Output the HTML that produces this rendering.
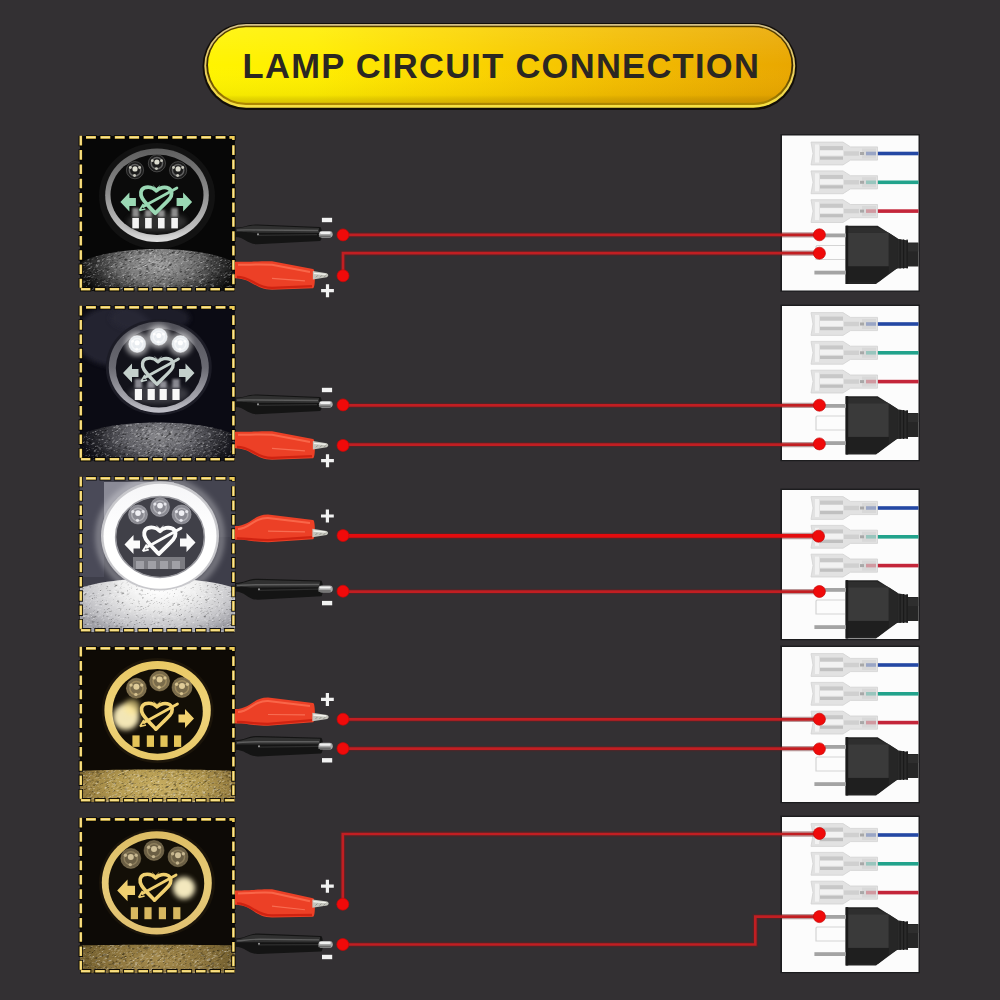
<!DOCTYPE html>
<html><head><meta charset="utf-8"><style>
html,body{margin:0;padding:0;background:#333033;width:1000px;height:1000px;overflow:hidden;font-family:"Liberation Sans",sans-serif;}
svg{display:block}
</style></head><body>
<svg width="1000" height="1000" viewBox="0 0 1000 1000">
<rect width="1000" height="1000" fill="#333033"/>
<defs>
<linearGradient id="bg1" x1="0" y1="0" x2="1" y2="0">
 <stop offset="0" stop-color="#fff400"/>
 <stop offset="0.18" stop-color="#ffee00"/>
 <stop offset="0.4" stop-color="#fcd800"/>
 <stop offset="0.7" stop-color="#f3bd00"/>
 <stop offset="1" stop-color="#e9a700"/>
</linearGradient>
<linearGradient id="bg2" x1="0" y1="0" x2="0" y2="1">
 <stop offset="0" stop-color="#ffffff" stop-opacity="0.10"/>
 <stop offset="0.5" stop-color="#ffffff" stop-opacity="0"/>
 <stop offset="0.9" stop-color="#000000" stop-opacity="0.04"/>
 <stop offset="1" stop-color="#7a4a00" stop-opacity="0.25"/>
</linearGradient>
</defs>
<linearGradient id="bgold" x1="0" y1="0" x2="0" y2="1"><stop offset="0" stop-color="#d4c088"/><stop offset="0.5" stop-color="#e8cc60"/><stop offset="1" stop-color="#f6e040"/></linearGradient>
<linearGradient id="bdk" x1="0" y1="0" x2="0" y2="1"><stop offset="0" stop-color="#5a4200"/><stop offset="0.5" stop-color="#3a2a04"/><stop offset="1" stop-color="#b08a00"/></linearGradient>
<rect x="202.5" y="23" width="594.5" height="87" rx="43.5" fill="#120e08"/>
<rect x="204.3" y="24.1" width="590.9" height="83.6" rx="41.8" fill="url(#bgold)"/>
<rect x="206.2" y="25.8" width="587.1" height="79.2" rx="39.6" fill="url(#bdk)"/>
<rect x="208" y="27.2" width="583.5" height="75.6" rx="37.8" fill="url(#bg1)"/>
<rect x="208" y="27.2" width="583.5" height="75.6" rx="37.8" fill="url(#bg2)"/>
<text x="242.6" y="78.3" font-family="Liberation Sans" font-weight="bold" font-size="34.5" letter-spacing="1.28" fill="#2b2722">LAMP CIRCUIT CONNECTION</text>
<defs><clipPath id="lc0"><rect x="0" y="0" width="155" height="155"/></clipPath>
<radialGradient id="gr0" cx="78" cy="128" r="80" gradientUnits="userSpaceOnUse" gradientTransform="translate(78 128) scale(1 0.5) translate(-78 -128)">
<stop offset="0" stop-color="#a0a0a0"/>
<stop offset="0.45" stop-color="#747474"/>
<stop offset="0.8" stop-color="#303030"/>
<stop offset="1" stop-color="#0e0e0e"/>
</radialGradient>
<linearGradient id="rg0" x1="0" y1="0" x2="0" y2="1">
<stop offset="0" stop-color="#5e5e5e"/>
<stop offset="0.45" stop-color="#8a8a8a"/>
<stop offset="0.85" stop-color="#c0c0c0"/>
<stop offset="1" stop-color="#dedede"/>
</linearGradient>
<filter id="bl0" x="-50%" y="-50%" width="200%" height="200%"><feGaussianBlur stdDeviation="2.5"/></filter>
<filter id="sb0" x="-20%" y="-20%" width="140%" height="140%"><feGaussianBlur stdDeviation="1.1"/></filter>
<filter id="nz0" x="0" y="0" width="100%" height="100%"><feTurbulence type="fractalNoise" baseFrequency="0.32 1.3" numOctaves="2" seed="2"/><feColorMatrix type="matrix" values="0 0 0 0 1  0 0 0 0 1  0 0 0 0 1  1.8 0 0 0 -0.95"/></filter>
<filter id="nd0" x="0" y="0" width="100%" height="100%"><feTurbulence type="fractalNoise" baseFrequency="0.26 1.1" numOctaves="2" seed="11"/><feColorMatrix type="matrix" values="0 0 0 0 0  0 0 0 0 0  0 0 0 0 0  2.0 0 0 0 -1.0"/></filter>
<clipPath id="gc0"><path d="M-2,128 C30,108 125,108 157,128 L157,157 L-2,157 Z"/></clipPath>
</defs>
<g transform="translate(80,136)" clip-path="url(#lc0)">
<rect x="0" y="0" width="155" height="155" fill="#070707"/>
<path d="M-2,128 C30,108 125,108 157,128 L157,157 L-2,157 Z" fill="url(#gr0)"/>
<g clip-path="url(#gc0)"><g transform="rotate(-24 78 130)"><rect x="-40" y="60" width="240" height="140" filter="url(#nd0)"/><rect x="-40" y="60" width="240" height="140" filter="url(#nz0)"/></g></g>
<ellipse cx="77" cy="60" rx="58" ry="53" fill="#121212"/>
<ellipse cx="77" cy="59.2" rx="51.8" ry="46.8" fill="url(#rg0)"/>
<ellipse cx="77" cy="58.8" rx="46.5" ry="40.2" fill="#0b0b0b"/>
<ellipse cx="77" cy="86" rx="30" ry="10" fill="#4a4a4a" opacity="0.6" filter="url(#bl0)"/>
<g filter="url(#sb0)" opacity="0.75" fill="#b4b4b4"><rect x="52.3" y="72" width="6.6" height="9"/><rect x="65.1" y="74" width="6.6" height="7"/><rect x="78" y="74" width="6.6" height="7"/><rect x="91.3" y="72" width="6.6" height="9"/></g>
<circle cx="55" cy="34.2" r="8.6" fill="#1c1c1c"/>
<circle cx="55" cy="34.2" r="5.676" fill="none" stroke="#9a9a9a" stroke-width="1.5" opacity="0.55"/>
<circle cx="55" cy="34.2" r="8.6" fill="none" stroke="#9a9a9a" stroke-width="0.8" opacity="0.45"/>
<circle cx="50.38" cy="31.53" r="1.46" fill="#dcdcd0" opacity="0.85"/>
<circle cx="59.62" cy="31.53" r="1.46" fill="#dcdcd0" opacity="0.85"/>
<circle cx="54.54" cy="39.51" r="1.46" fill="#dcdcd0" opacity="0.85"/>
<circle cx="55" cy="32.910000000000004" r="2.5799999999999996" fill="#dcdcd0"/>
<circle cx="76.9" cy="27.3" r="8.6" fill="#1c1c1c"/>
<circle cx="76.9" cy="27.3" r="5.676" fill="none" stroke="#9a9a9a" stroke-width="1.5" opacity="0.55"/>
<circle cx="76.9" cy="27.3" r="8.6" fill="none" stroke="#9a9a9a" stroke-width="0.8" opacity="0.45"/>
<circle cx="72.28" cy="24.63" r="1.46" fill="#dcdcd0" opacity="0.85"/>
<circle cx="81.52" cy="24.63" r="1.46" fill="#dcdcd0" opacity="0.85"/>
<circle cx="76.44" cy="32.61" r="1.46" fill="#dcdcd0" opacity="0.85"/>
<circle cx="76.9" cy="26.01" r="2.5799999999999996" fill="#dcdcd0"/>
<circle cx="98.1" cy="34.2" r="8.6" fill="#1c1c1c"/>
<circle cx="98.1" cy="34.2" r="5.676" fill="none" stroke="#9a9a9a" stroke-width="1.5" opacity="0.55"/>
<circle cx="98.1" cy="34.2" r="8.6" fill="none" stroke="#9a9a9a" stroke-width="0.8" opacity="0.45"/>
<circle cx="93.48" cy="31.53" r="1.46" fill="#dcdcd0" opacity="0.85"/>
<circle cx="102.72" cy="31.53" r="1.46" fill="#dcdcd0" opacity="0.85"/>
<circle cx="97.64" cy="39.51" r="1.46" fill="#dcdcd0" opacity="0.85"/>
<circle cx="98.1" cy="32.910000000000004" r="2.5799999999999996" fill="#dcdcd0"/>
<rect x="52.3" y="82" width="6.6" height="10.4" fill="#f4f4f4"/>
<rect x="65.1" y="82" width="6.6" height="10.4" fill="#f4f4f4"/>
<rect x="78" y="82" width="6.6" height="10.4" fill="#f4f4f4"/>
<rect x="91.3" y="82" width="6.6" height="10.4" fill="#f4f4f4"/>
<g transform="translate(76.4,64) scale(1.0)">
<path d="M0,-9.2 C-3,-12.5 -8,-13.5 -12,-12.2 C-16,-10.5 -16.5,-5.5 -14,-1.5 C-10.5,4 -4.5,9.5 -1.1,13.2 C3,9 9.5,3 13,-1 C16,-4.5 16,-9.5 12.5,-11.5 C8.5,-13.5 3,-12.5 0,-9.2 Z" fill="none" stroke="#9ad8b4" stroke-width="3.8" stroke-linejoin="round"/>
<path d="M-13,6.5 L20.5,-12" stroke="#9ad8b4" stroke-width="2.8" stroke-linecap="round"/>
<path d="M-3.5,-14.5 L0,-11.5 L3.5,-14.5" fill="none" stroke="#9ad8b4" stroke-width="1" opacity="0.6"/>
<path d="M-11,9 L-17,10.5 M-13,4 L-17,10.5" fill="none" stroke="#9ad8b4" stroke-width="1.8"/>
</g>
<path d="M40.4,66 L49.4,56.5 L49.4,62.0 L55.9,62.0 L55.9,70.0 L49.4,70.0 L49.4,75.5 Z" fill="#9ad8b4"/>
<path d="M112.1,66 L103.1,56.5 L103.1,62.0 L96.6,62.0 L96.6,70.0 L103.1,70.0 L103.1,75.5 Z" fill="#9ad8b4"/>
</g>
<line x1="86" y1="137.4" x2="234.6" y2="137.4" stroke="#050403" stroke-width="4.4" stroke-dasharray="11.700000000000001 2.7" stroke-dashoffset="0.9" opacity="0.92"/>
<line x1="86" y1="137.4" x2="234.6" y2="137.4" stroke="#efcd58" stroke-width="2.6" stroke-dasharray="9.9 4.5" stroke-dashoffset="0"/>
<line x1="86" y1="137.4" x2="234.6" y2="137.4" stroke="#f8e6a0" stroke-width="1.0" stroke-dasharray="8.9 5.5" stroke-dashoffset="-0.5"/>
<line x1="233.4" y1="145.2" x2="233.4" y2="288.0" stroke="#050403" stroke-width="4.4" stroke-dasharray="11.600000000000001 2.75" stroke-dashoffset="0.9" opacity="0.92"/>
<line x1="233.4" y1="145.2" x2="233.4" y2="288.0" stroke="#efcd58" stroke-width="2.6" stroke-dasharray="9.8 4.55" stroke-dashoffset="0"/>
<line x1="233.4" y1="145.2" x2="233.4" y2="288.0" stroke="#f8e6a0" stroke-width="1.0" stroke-dasharray="8.8 5.55" stroke-dashoffset="-0.5"/>
<path d="M229.4,137.4 L233.4,137.4 L233.4,140.6" stroke="#050403" stroke-width="4.4" fill="none" opacity="0.92"/>
<path d="M229.4,137.4 L233.4,137.4 L233.4,140.0" stroke="#efcd58" stroke-width="2.6" fill="none"/>
<line x1="234.4" y1="289.2" x2="80" y2="289.2" stroke="#050403" stroke-width="4.4" stroke-dasharray="11.4 3.0" stroke-dashoffset="0.9" opacity="0.92"/>
<line x1="234.4" y1="289.2" x2="80" y2="289.2" stroke="#efcd58" stroke-width="2.6" stroke-dasharray="9.6 4.8" stroke-dashoffset="0"/>
<line x1="234.4" y1="289.2" x2="80" y2="289.2" stroke="#f8e6a0" stroke-width="1.0" stroke-dasharray="8.6 5.8" stroke-dashoffset="-0.5"/>
<line x1="80.8" y1="135.8" x2="80.8" y2="287.7" stroke="#050403" stroke-width="4.4" stroke-dasharray="11.4 2.9000000000000004" stroke-dashoffset="0.9" opacity="0.92"/>
<line x1="80.8" y1="135.8" x2="80.8" y2="287.7" stroke="#efcd58" stroke-width="2.6" stroke-dasharray="9.6 4.7" stroke-dashoffset="0"/>
<line x1="80.8" y1="135.8" x2="80.8" y2="287.7" stroke="#f8e6a0" stroke-width="1.0" stroke-dasharray="8.6 5.7" stroke-dashoffset="-0.5"/>
<defs><clipPath id="lc1"><rect x="0" y="0" width="155" height="155"/></clipPath>
<radialGradient id="gr1" cx="80" cy="130" r="80" gradientUnits="userSpaceOnUse" gradientTransform="translate(80 130) scale(1 0.5) translate(-80 -130)">
<stop offset="0" stop-color="#8a8a8e"/>
<stop offset="0.45" stop-color="#606066"/>
<stop offset="0.8" stop-color="#26262c"/>
<stop offset="1" stop-color="#0e0e16"/>
</radialGradient>
<linearGradient id="rg1" x1="0" y1="0" x2="0" y2="1">
<stop offset="0" stop-color="#505058"/>
<stop offset="0.5" stop-color="#6a6a72"/>
<stop offset="0.85" stop-color="#a8a8b0"/>
<stop offset="1" stop-color="#c0c0c8"/>
</linearGradient>
<filter id="bl1" x="-50%" y="-50%" width="200%" height="200%"><feGaussianBlur stdDeviation="2.5"/></filter>
<filter id="sb1" x="-20%" y="-20%" width="140%" height="140%"><feGaussianBlur stdDeviation="1.1"/></filter>
<filter id="nz1" x="0" y="0" width="100%" height="100%"><feTurbulence type="fractalNoise" baseFrequency="0.32 1.3" numOctaves="2" seed="3"/><feColorMatrix type="matrix" values="0 0 0 0 1  0 0 0 0 1  0 0 0 0 1  1.8 0 0 0 -0.95"/></filter>
<filter id="nd1" x="0" y="0" width="100%" height="100%"><feTurbulence type="fractalNoise" baseFrequency="0.26 1.1" numOctaves="2" seed="12"/><feColorMatrix type="matrix" values="0 0 0 0 0  0 0 0 0 0  0 0 0 0 0  2.0 0 0 0 -1.0"/></filter>
<clipPath id="gc1"><path d="M-2,130 C30,112 125,112 157,130 L157,157 L-2,157 Z"/></clipPath>
</defs>
<g transform="translate(80,306)" clip-path="url(#lc1)">
<rect x="0" y="0" width="155" height="155" fill="#0b0b14"/>
<ellipse cx="35" cy="30" rx="40" ry="30" fill="#2e2e3e" opacity="0.7" filter="url(#bl1)"/>
<ellipse cx="70" cy="12" rx="40" ry="14" fill="#2a2a38" opacity="0.6" filter="url(#bl1)"/>
<path d="M-2,130 C30,112 125,112 157,130 L157,157 L-2,157 Z" fill="url(#gr1)"/>
<g clip-path="url(#gc1)"><g transform="rotate(-24 78 130)"><rect x="-40" y="60" width="240" height="140" filter="url(#nd1)"/><rect x="-40" y="60" width="240" height="140" filter="url(#nz1)"/></g></g>
<ellipse cx="78.8" cy="61.2" rx="53" ry="48" fill="#1c1c26"/>
<ellipse cx="78.8" cy="61.2" rx="50" ry="45.5" fill="url(#rg1)"/>
<ellipse cx="78.8" cy="62" rx="43" ry="39.5" fill="#12121a"/>
<ellipse cx="78.8" cy="88" rx="30" ry="10" fill="#55555c" opacity="0.6" filter="url(#bl1)"/>
<g filter="url(#sb1)" opacity="0.7" fill="#b8b8c0"><rect x="54.8" y="73" width="7.2" height="9"/><rect x="67.6" y="75" width="7" height="7"/><rect x="79.6" y="75" width="7" height="7"/><rect x="92.4" y="73" width="7.2" height="9"/></g>
<circle cx="57.2" cy="38" r="12" fill="#ffffff" opacity="0.55" filter="url(#bl1)"/>
<circle cx="78.8" cy="30.8" r="12" fill="#ffffff" opacity="0.55" filter="url(#bl1)"/>
<circle cx="100.4" cy="38" r="12" fill="#ffffff" opacity="0.5" filter="url(#bl1)"/>
<circle cx="57.2" cy="38" r="8.5" fill="#e8ecf0"/>
<circle cx="57.2" cy="38" r="5.61" fill="none" stroke="#ffffff" stroke-width="1.5" opacity="0.55"/>
<circle cx="57.2" cy="38" r="8.5" fill="none" stroke="#ffffff" stroke-width="0.8" opacity="0.45"/>
<circle cx="52.64" cy="35.37" r="1.45" fill="#ffffff" opacity="0.85"/>
<circle cx="61.76" cy="35.36" r="1.45" fill="#ffffff" opacity="0.85"/>
<circle cx="56.74" cy="43.25" r="1.45" fill="#ffffff" opacity="0.85"/>
<circle cx="57.2" cy="36.725" r="2.55" fill="#ffffff"/>
<circle cx="78.8" cy="30.8" r="8.5" fill="#e8ecf0"/>
<circle cx="78.8" cy="30.8" r="5.61" fill="none" stroke="#ffffff" stroke-width="1.5" opacity="0.55"/>
<circle cx="78.8" cy="30.8" r="8.5" fill="none" stroke="#ffffff" stroke-width="0.8" opacity="0.45"/>
<circle cx="74.24" cy="28.16" r="1.45" fill="#ffffff" opacity="0.85"/>
<circle cx="83.36" cy="28.16" r="1.45" fill="#ffffff" opacity="0.85"/>
<circle cx="78.34" cy="36.05" r="1.45" fill="#ffffff" opacity="0.85"/>
<circle cx="78.8" cy="29.525000000000002" r="2.55" fill="#ffffff"/>
<circle cx="100.4" cy="38" r="8.5" fill="#e8ecf0"/>
<circle cx="100.4" cy="38" r="5.61" fill="none" stroke="#ffffff" stroke-width="1.5" opacity="0.55"/>
<circle cx="100.4" cy="38" r="8.5" fill="none" stroke="#ffffff" stroke-width="0.8" opacity="0.45"/>
<circle cx="95.84" cy="35.37" r="1.45" fill="#ffffff" opacity="0.85"/>
<circle cx="104.96" cy="35.36" r="1.45" fill="#ffffff" opacity="0.85"/>
<circle cx="99.94" cy="43.25" r="1.45" fill="#ffffff" opacity="0.85"/>
<circle cx="100.4" cy="36.725" r="2.55" fill="#ffffff"/>
<rect x="54.8" y="83" width="7.2" height="11" fill="#f8f8f8"/>
<rect x="67.6" y="83" width="7.2" height="11" fill="#f8f8f8"/>
<rect x="79.6" y="83" width="7.2" height="11" fill="#f8f8f8"/>
<rect x="92.4" y="83" width="7.2" height="11" fill="#f8f8f8"/>
<g transform="translate(78,65) scale(1.0)">
<path d="M0,-9.2 C-3,-12.5 -8,-13.5 -12,-12.2 C-16,-10.5 -16.5,-5.5 -14,-1.5 C-10.5,4 -4.5,9.5 -1.1,13.2 C3,9 9.5,3 13,-1 C16,-4.5 16,-9.5 12.5,-11.5 C8.5,-13.5 3,-12.5 0,-9.2 Z" fill="none" stroke="#c4d0cc" stroke-width="3.4" stroke-linejoin="round"/>
<path d="M-13,6.5 L20.5,-12" stroke="#c4d0cc" stroke-width="2.8" stroke-linecap="round"/>
<path d="M-3.5,-14.5 L0,-11.5 L3.5,-14.5" fill="none" stroke="#c4d0cc" stroke-width="1" opacity="0.6"/>
<path d="M-11,9 L-17,10.5 M-13,4 L-17,10.5" fill="none" stroke="#c4d0cc" stroke-width="1.8"/>
</g>
<path d="M43,67 L52.0,57.5 L52.0,63.0 L58.5,63.0 L58.5,71.0 L52.0,71.0 L52.0,76.5 Z" fill="#c4d0cc"/>
<path d="M114.5,67 L105.5,57.5 L105.5,63.0 L99.0,63.0 L99.0,71.0 L105.5,71.0 L105.5,76.5 Z" fill="#c4d0cc"/>
</g>
<line x1="86" y1="307.4" x2="234.6" y2="307.4" stroke="#050403" stroke-width="4.4" stroke-dasharray="11.700000000000001 2.7" stroke-dashoffset="0.9" opacity="0.92"/>
<line x1="86" y1="307.4" x2="234.6" y2="307.4" stroke="#efcd58" stroke-width="2.6" stroke-dasharray="9.9 4.5" stroke-dashoffset="0"/>
<line x1="86" y1="307.4" x2="234.6" y2="307.4" stroke="#f8e6a0" stroke-width="1.0" stroke-dasharray="8.9 5.5" stroke-dashoffset="-0.5"/>
<line x1="233.4" y1="315.2" x2="233.4" y2="458.0" stroke="#050403" stroke-width="4.4" stroke-dasharray="11.600000000000001 2.75" stroke-dashoffset="0.9" opacity="0.92"/>
<line x1="233.4" y1="315.2" x2="233.4" y2="458.0" stroke="#efcd58" stroke-width="2.6" stroke-dasharray="9.8 4.55" stroke-dashoffset="0"/>
<line x1="233.4" y1="315.2" x2="233.4" y2="458.0" stroke="#f8e6a0" stroke-width="1.0" stroke-dasharray="8.8 5.55" stroke-dashoffset="-0.5"/>
<path d="M229.4,307.4 L233.4,307.4 L233.4,310.59999999999997" stroke="#050403" stroke-width="4.4" fill="none" opacity="0.92"/>
<path d="M229.4,307.4 L233.4,307.4 L233.4,310.0" stroke="#efcd58" stroke-width="2.6" fill="none"/>
<line x1="234.4" y1="459.2" x2="80" y2="459.2" stroke="#050403" stroke-width="4.4" stroke-dasharray="11.4 3.0" stroke-dashoffset="0.9" opacity="0.92"/>
<line x1="234.4" y1="459.2" x2="80" y2="459.2" stroke="#efcd58" stroke-width="2.6" stroke-dasharray="9.6 4.8" stroke-dashoffset="0"/>
<line x1="234.4" y1="459.2" x2="80" y2="459.2" stroke="#f8e6a0" stroke-width="1.0" stroke-dasharray="8.6 5.8" stroke-dashoffset="-0.5"/>
<line x1="80.8" y1="305.8" x2="80.8" y2="457.7" stroke="#050403" stroke-width="4.4" stroke-dasharray="11.4 2.9000000000000004" stroke-dashoffset="0.9" opacity="0.92"/>
<line x1="80.8" y1="305.8" x2="80.8" y2="457.7" stroke="#efcd58" stroke-width="2.6" stroke-dasharray="9.6 4.7" stroke-dashoffset="0"/>
<line x1="80.8" y1="305.8" x2="80.8" y2="457.7" stroke="#f8e6a0" stroke-width="1.0" stroke-dasharray="8.6 5.7" stroke-dashoffset="-0.5"/>
<defs><clipPath id="lc2"><rect x="0" y="0" width="155" height="155"/></clipPath>
<radialGradient id="gr2" cx="80" cy="112" r="95" gradientUnits="userSpaceOnUse" gradientTransform="translate(80 112) scale(1 0.5) translate(-80 -112)">
<stop offset="0" stop-color="#ffffff"/>
<stop offset="0.4" stop-color="#ececec"/>
<stop offset="0.8" stop-color="#c4c4c8"/>
<stop offset="1" stop-color="#a0a0a6"/>
</radialGradient>
<linearGradient id="rg2" x1="0" y1="0" x2="0" y2="1">
<stop offset="0" stop-color="#f6f6f8"/>
<stop offset="0.5" stop-color="#ffffff"/>
<stop offset="1" stop-color="#ffffff"/>
</linearGradient>
<filter id="bl2" x="-50%" y="-50%" width="200%" height="200%"><feGaussianBlur stdDeviation="3"/></filter>
<filter id="sb2" x="-20%" y="-20%" width="140%" height="140%"><feGaussianBlur stdDeviation="1.1"/></filter>
<filter id="nz2" x="0" y="0" width="100%" height="100%"><feTurbulence type="fractalNoise" baseFrequency="0.32 1.3" numOctaves="2" seed="4"/><feColorMatrix type="matrix" values="0 0 0 0 1  0 0 0 0 1  0 0 0 0 1  1.8 0 0 0 -0.95"/></filter>
<filter id="nd2" x="0" y="0" width="100%" height="100%"><feTurbulence type="fractalNoise" baseFrequency="0.26 1.1" numOctaves="2" seed="13"/><feColorMatrix type="matrix" values="0 0 0 0 0  0 0 0 0 0  0 0 0 0 0  1.75 0 0 0 -1.0"/></filter>
<clipPath id="gc2"><path d="M-2,112 C30,98 125,98 157,112 L157,157 L-2,157 Z"/></clipPath>
</defs>
<g transform="translate(80,477)" clip-path="url(#lc2)">
<rect x="0" y="0" width="155" height="155" fill="#3e3e4a"/>
<rect x="0" y="0" width="155" height="60" fill="#444450"/>
<rect x="24" y="5" width="70" height="50" fill="#8a8a96"/>
<rect x="0" y="0" width="24" height="100" fill="#4a4a58"/>
<path d="M-2,112 C30,98 125,98 157,112 L157,157 L-2,157 Z" fill="url(#gr2)"/>
<g clip-path="url(#gc2)"><g transform="rotate(-24 78 130)"><rect x="-40" y="60" width="240" height="140" filter="url(#nd2)"/><rect x="-40" y="60" width="240" height="140" filter="url(#nz2)"/></g></g>
<ellipse cx="80" cy="60" rx="61" ry="57" fill="none" stroke="#ffffff" stroke-width="5" opacity="0.45" filter="url(#bl2)"/>
<ellipse cx="80" cy="58.8" rx="59" ry="54.6" fill="#c8c8cc"/>
<ellipse cx="80" cy="59.2" rx="56.5" ry="52.5" fill="url(#rg2)"/>
<ellipse cx="80" cy="60" rx="44.4" ry="40.4" fill="#404048"/>
<rect x="53" y="80" width="52" height="12" fill="#8a8a90" opacity="0.8"/>
<ellipse cx="80" cy="60" rx="44.4" ry="40.4" fill="none" stroke="#9a9aa0" stroke-width="1.5"/>
<circle cx="58" cy="37.5" r="9.5" fill="#8a8a92"/>
<circle cx="58" cy="37.5" r="6.2700000000000005" fill="none" stroke="#d0d0d4" stroke-width="1.5" opacity="0.55"/>
<circle cx="58" cy="37.5" r="9.5" fill="none" stroke="#d0d0d4" stroke-width="0.8" opacity="0.45"/>
<circle cx="52.90" cy="34.55" r="1.62" fill="#f0f0f4" opacity="0.85"/>
<circle cx="63.10" cy="34.55" r="1.62" fill="#f0f0f4" opacity="0.85"/>
<circle cx="57.49" cy="43.37" r="1.62" fill="#f0f0f4" opacity="0.85"/>
<circle cx="58" cy="36.075" r="2.85" fill="#f0f0f4"/>
<circle cx="80" cy="30" r="9.5" fill="#8a8a92"/>
<circle cx="80" cy="30" r="6.2700000000000005" fill="none" stroke="#d0d0d4" stroke-width="1.5" opacity="0.55"/>
<circle cx="80" cy="30" r="9.5" fill="none" stroke="#d0d0d4" stroke-width="0.8" opacity="0.45"/>
<circle cx="74.90" cy="27.05" r="1.62" fill="#f0f0f4" opacity="0.85"/>
<circle cx="85.10" cy="27.05" r="1.62" fill="#f0f0f4" opacity="0.85"/>
<circle cx="79.49" cy="35.87" r="1.62" fill="#f0f0f4" opacity="0.85"/>
<circle cx="80" cy="28.575" r="2.85" fill="#f0f0f4"/>
<circle cx="101.6" cy="37.5" r="9.5" fill="#8a8a92"/>
<circle cx="101.6" cy="37.5" r="6.2700000000000005" fill="none" stroke="#d0d0d4" stroke-width="1.5" opacity="0.55"/>
<circle cx="101.6" cy="37.5" r="9.5" fill="none" stroke="#d0d0d4" stroke-width="0.8" opacity="0.45"/>
<circle cx="96.50" cy="34.55" r="1.62" fill="#f0f0f4" opacity="0.85"/>
<circle cx="106.70" cy="34.55" r="1.62" fill="#f0f0f4" opacity="0.85"/>
<circle cx="101.09" cy="43.37" r="1.62" fill="#f0f0f4" opacity="0.85"/>
<circle cx="101.6" cy="36.075" r="2.85" fill="#f0f0f4"/>
<rect x="56" y="84" width="8" height="8" fill="#a0a0a6"/>
<rect x="68" y="84" width="8" height="8" fill="#a0a0a6"/>
<rect x="80" y="84" width="8" height="8" fill="#a0a0a6"/>
<rect x="92" y="84" width="8" height="8" fill="#a0a0a6"/>
<g transform="translate(80,63.5) scale(1.02)">
<path d="M0,-9.2 C-3,-12.5 -8,-13.5 -12,-12.2 C-16,-10.5 -16.5,-5.5 -14,-1.5 C-10.5,4 -4.5,9.5 -1.1,13.2 C3,9 9.5,3 13,-1 C16,-4.5 16,-9.5 12.5,-11.5 C8.5,-13.5 3,-12.5 0,-9.2 Z" fill="none" stroke="#fbfbfb" stroke-width="3.8" stroke-linejoin="round"/>
<path d="M-13,6.5 L20.5,-12" stroke="#fbfbfb" stroke-width="2.8" stroke-linecap="round"/>
<path d="M-3.5,-14.5 L0,-11.5 L3.5,-14.5" fill="none" stroke="#fbfbfb" stroke-width="1" opacity="0.6"/>
<path d="M-11,9 L-17,10.5 M-13,4 L-17,10.5" fill="none" stroke="#fbfbfb" stroke-width="1.8"/>
</g>
<path d="M44.5,67.5 L53.5,58.0 L53.5,63.5 L60.0,63.5 L60.0,71.5 L53.5,71.5 L53.5,77.0 Z" fill="#fbfbfb"/>
<path d="M115.5,65.5 L106.5,56.0 L106.5,61.5 L100.0,61.5 L100.0,69.5 L106.5,69.5 L106.5,75.0 Z" fill="#fbfbfb"/>
</g>
<line x1="86" y1="478.4" x2="234.6" y2="478.4" stroke="#050403" stroke-width="4.4" stroke-dasharray="11.700000000000001 2.7" stroke-dashoffset="0.9" opacity="0.92"/>
<line x1="86" y1="478.4" x2="234.6" y2="478.4" stroke="#efcd58" stroke-width="2.6" stroke-dasharray="9.9 4.5" stroke-dashoffset="0"/>
<line x1="86" y1="478.4" x2="234.6" y2="478.4" stroke="#f8e6a0" stroke-width="1.0" stroke-dasharray="8.9 5.5" stroke-dashoffset="-0.5"/>
<line x1="233.4" y1="486.2" x2="233.4" y2="629.0" stroke="#050403" stroke-width="4.4" stroke-dasharray="11.600000000000001 2.75" stroke-dashoffset="0.9" opacity="0.92"/>
<line x1="233.4" y1="486.2" x2="233.4" y2="629.0" stroke="#efcd58" stroke-width="2.6" stroke-dasharray="9.8 4.55" stroke-dashoffset="0"/>
<line x1="233.4" y1="486.2" x2="233.4" y2="629.0" stroke="#f8e6a0" stroke-width="1.0" stroke-dasharray="8.8 5.55" stroke-dashoffset="-0.5"/>
<path d="M229.4,478.4 L233.4,478.4 L233.4,481.59999999999997" stroke="#050403" stroke-width="4.4" fill="none" opacity="0.92"/>
<path d="M229.4,478.4 L233.4,478.4 L233.4,481.0" stroke="#efcd58" stroke-width="2.6" fill="none"/>
<line x1="234.4" y1="630.2" x2="80" y2="630.2" stroke="#050403" stroke-width="4.4" stroke-dasharray="11.4 3.0" stroke-dashoffset="0.9" opacity="0.92"/>
<line x1="234.4" y1="630.2" x2="80" y2="630.2" stroke="#efcd58" stroke-width="2.6" stroke-dasharray="9.6 4.8" stroke-dashoffset="0"/>
<line x1="234.4" y1="630.2" x2="80" y2="630.2" stroke="#f8e6a0" stroke-width="1.0" stroke-dasharray="8.6 5.8" stroke-dashoffset="-0.5"/>
<line x1="80.8" y1="476.8" x2="80.8" y2="628.7" stroke="#050403" stroke-width="4.4" stroke-dasharray="11.4 2.9000000000000004" stroke-dashoffset="0.9" opacity="0.92"/>
<line x1="80.8" y1="476.8" x2="80.8" y2="628.7" stroke="#efcd58" stroke-width="2.6" stroke-dasharray="9.6 4.7" stroke-dashoffset="0"/>
<line x1="80.8" y1="476.8" x2="80.8" y2="628.7" stroke="#f8e6a0" stroke-width="1.0" stroke-dasharray="8.6 5.7" stroke-dashoffset="-0.5"/>
<defs><clipPath id="lc3"><rect x="0" y="0" width="155" height="155"/></clipPath>
<radialGradient id="gr3" cx="78" cy="140" r="90" gradientUnits="userSpaceOnUse" gradientTransform="translate(78 140) scale(1 0.4) translate(-78 -140)">
<stop offset="0" stop-color="#c8ae62"/>
<stop offset="0.5" stop-color="#b49a50"/>
<stop offset="0.85" stop-color="#937a3e"/>
<stop offset="1" stop-color="#6a5628"/>
</radialGradient>
<linearGradient id="rg3" x1="0" y1="0" x2="0" y2="1">
<stop offset="0" stop-color="#e8c864"/>
<stop offset="0.5" stop-color="#f0d47a"/>
<stop offset="1" stop-color="#e8c868"/>
</linearGradient>
<filter id="bl3" x="-50%" y="-50%" width="200%" height="200%"><feGaussianBlur stdDeviation="2.5"/></filter>
<filter id="sb3" x="-20%" y="-20%" width="140%" height="140%"><feGaussianBlur stdDeviation="1.1"/></filter>
<filter id="nz3" x="0" y="0" width="100%" height="100%"><feTurbulence type="fractalNoise" baseFrequency="0.32 1.3" numOctaves="2" seed="5"/><feColorMatrix type="matrix" values="0 0 0 0 1  0 0 0 0 1  0 0 0 0 1  1.8 0 0 0 -0.95"/></filter>
<filter id="nd3" x="0" y="0" width="100%" height="100%"><feTurbulence type="fractalNoise" baseFrequency="0.26 1.1" numOctaves="2" seed="14"/><feColorMatrix type="matrix" values="0 0 0 0 0  0 0 0 0 0  0 0 0 0 0  1.9 0 0 0 -1.0"/></filter>
<clipPath id="gc3"><path d="M-2,124 C30,122 125,122 157,124 L157,157 L-2,157 Z"/></clipPath>
</defs>
<g transform="translate(80,647)" clip-path="url(#lc3)">
<rect x="0" y="0" width="155" height="155" fill="#0e0a05"/>
<path d="M-2,124 C30,122 125,122 157,124 L157,157 L-2,157 Z" fill="url(#gr3)"/>
<g clip-path="url(#gc3)"><g transform="rotate(-24 78 130)"><rect x="-40" y="60" width="240" height="140" filter="url(#nd3)"/><rect x="-40" y="60" width="240" height="140" filter="url(#nz3)"/></g></g>
<ellipse cx="77.6" cy="63.6" rx="56" ry="52.5" fill="#1c150a"/>
<ellipse cx="77.6" cy="63.6" rx="53.2" ry="49.6" fill="url(#rg3)"/>
<ellipse cx="77.6" cy="64.4" rx="45.2" ry="42.4" fill="#120e06"/>
<circle cx="46" cy="70" r="13" fill="#fff2c0" opacity="0.95" filter="url(#bl3)"/>
<circle cx="52" cy="60" r="8" fill="#ffe890" opacity="0.6" filter="url(#bl3)"/>
<circle cx="56.4" cy="41.2" r="10" fill="#7a6c4c"/>
<circle cx="56.4" cy="41.2" r="6.6000000000000005" fill="none" stroke="#c0a870" stroke-width="1.5" opacity="0.55"/>
<circle cx="56.4" cy="41.2" r="10" fill="none" stroke="#c0a870" stroke-width="0.8" opacity="0.45"/>
<circle cx="51.03" cy="38.10" r="1.70" fill="#e0cc98" opacity="0.85"/>
<circle cx="61.77" cy="38.10" r="1.70" fill="#e0cc98" opacity="0.85"/>
<circle cx="55.86" cy="47.38" r="1.70" fill="#e0cc98" opacity="0.85"/>
<circle cx="56.4" cy="39.7" r="3.0" fill="#e0cc98"/>
<circle cx="79.6" cy="34" r="10" fill="#7a6c4c"/>
<circle cx="79.6" cy="34" r="6.6000000000000005" fill="none" stroke="#c0a870" stroke-width="1.5" opacity="0.55"/>
<circle cx="79.6" cy="34" r="10" fill="none" stroke="#c0a870" stroke-width="0.8" opacity="0.45"/>
<circle cx="74.23" cy="30.90" r="1.70" fill="#e0cc98" opacity="0.85"/>
<circle cx="84.97" cy="30.90" r="1.70" fill="#e0cc98" opacity="0.85"/>
<circle cx="79.06" cy="40.18" r="1.70" fill="#e0cc98" opacity="0.85"/>
<circle cx="79.6" cy="32.5" r="3.0" fill="#e0cc98"/>
<circle cx="102" cy="40.4" r="10" fill="#7a6c4c"/>
<circle cx="102" cy="40.4" r="6.6000000000000005" fill="none" stroke="#c0a870" stroke-width="1.5" opacity="0.55"/>
<circle cx="102" cy="40.4" r="10" fill="none" stroke="#c0a870" stroke-width="0.8" opacity="0.45"/>
<circle cx="96.63" cy="37.30" r="1.70" fill="#e0cc98" opacity="0.85"/>
<circle cx="107.37" cy="37.30" r="1.70" fill="#e0cc98" opacity="0.85"/>
<circle cx="101.46" cy="46.58" r="1.70" fill="#e0cc98" opacity="0.85"/>
<circle cx="102" cy="38.9" r="3.0" fill="#e0cc98"/>
<rect x="52.4" y="88.4" width="7.2" height="11.5" fill="#e4c458"/>
<rect x="66.8" y="88.4" width="7.2" height="11.5" fill="#e4c458"/>
<rect x="80.4" y="88.4" width="7.2" height="11.5" fill="#e4c458"/>
<rect x="94" y="88.4" width="7.2" height="11.5" fill="#e4c458"/>
<g transform="translate(77,69) scale(1.0)">
<path d="M0,-9.2 C-3,-12.5 -8,-13.5 -12,-12.2 C-16,-10.5 -16.5,-5.5 -14,-1.5 C-10.5,4 -4.5,9.5 -1.1,13.2 C3,9 9.5,3 13,-1 C16,-4.5 16,-9.5 12.5,-11.5 C8.5,-13.5 3,-12.5 0,-9.2 Z" fill="none" stroke="#f2d270" stroke-width="3.6" stroke-linejoin="round"/>
<path d="M-13,6.5 L20.5,-12" stroke="#f2d270" stroke-width="2.8" stroke-linecap="round"/>
<path d="M-3.5,-14.5 L0,-11.5 L3.5,-14.5" fill="none" stroke="#f2d270" stroke-width="1" opacity="0.6"/>
<path d="M-11,9 L-17,10.5 M-13,4 L-17,10.5" fill="none" stroke="#f2d270" stroke-width="1.8"/>
</g>
<path d="M114,71.5 L105.0,62.0 L105.0,67.5 L98.5,67.5 L98.5,75.5 L105.0,75.5 L105.0,81.0 Z" fill="#f2d270"/>
</g>
<line x1="86" y1="648.4" x2="234.6" y2="648.4" stroke="#050403" stroke-width="4.4" stroke-dasharray="11.700000000000001 2.7" stroke-dashoffset="0.9" opacity="0.92"/>
<line x1="86" y1="648.4" x2="234.6" y2="648.4" stroke="#efcd58" stroke-width="2.6" stroke-dasharray="9.9 4.5" stroke-dashoffset="0"/>
<line x1="86" y1="648.4" x2="234.6" y2="648.4" stroke="#f8e6a0" stroke-width="1.0" stroke-dasharray="8.9 5.5" stroke-dashoffset="-0.5"/>
<line x1="233.4" y1="656.2" x2="233.4" y2="799.0" stroke="#050403" stroke-width="4.4" stroke-dasharray="11.600000000000001 2.75" stroke-dashoffset="0.9" opacity="0.92"/>
<line x1="233.4" y1="656.2" x2="233.4" y2="799.0" stroke="#efcd58" stroke-width="2.6" stroke-dasharray="9.8 4.55" stroke-dashoffset="0"/>
<line x1="233.4" y1="656.2" x2="233.4" y2="799.0" stroke="#f8e6a0" stroke-width="1.0" stroke-dasharray="8.8 5.55" stroke-dashoffset="-0.5"/>
<path d="M229.4,648.4 L233.4,648.4 L233.4,651.6" stroke="#050403" stroke-width="4.4" fill="none" opacity="0.92"/>
<path d="M229.4,648.4 L233.4,648.4 L233.4,651.0" stroke="#efcd58" stroke-width="2.6" fill="none"/>
<line x1="234.4" y1="800.2" x2="80" y2="800.2" stroke="#050403" stroke-width="4.4" stroke-dasharray="11.4 3.0" stroke-dashoffset="0.9" opacity="0.92"/>
<line x1="234.4" y1="800.2" x2="80" y2="800.2" stroke="#efcd58" stroke-width="2.6" stroke-dasharray="9.6 4.8" stroke-dashoffset="0"/>
<line x1="234.4" y1="800.2" x2="80" y2="800.2" stroke="#f8e6a0" stroke-width="1.0" stroke-dasharray="8.6 5.8" stroke-dashoffset="-0.5"/>
<line x1="80.8" y1="646.8" x2="80.8" y2="798.7" stroke="#050403" stroke-width="4.4" stroke-dasharray="11.4 2.9000000000000004" stroke-dashoffset="0.9" opacity="0.92"/>
<line x1="80.8" y1="646.8" x2="80.8" y2="798.7" stroke="#efcd58" stroke-width="2.6" stroke-dasharray="9.6 4.7" stroke-dashoffset="0"/>
<line x1="80.8" y1="646.8" x2="80.8" y2="798.7" stroke="#f8e6a0" stroke-width="1.0" stroke-dasharray="8.6 5.7" stroke-dashoffset="-0.5"/>
<defs><clipPath id="lc4"><rect x="0" y="0" width="155" height="155"/></clipPath>
<radialGradient id="gr4" cx="78" cy="142" r="90" gradientUnits="userSpaceOnUse" gradientTransform="translate(78 142) scale(1 0.4) translate(-78 -142)">
<stop offset="0" stop-color="#a48a4c"/>
<stop offset="0.5" stop-color="#8e763e"/>
<stop offset="0.85" stop-color="#74602f"/>
<stop offset="1" stop-color="#5a4a22"/>
</radialGradient>
<linearGradient id="rg4" x1="0" y1="0" x2="0" y2="1">
<stop offset="0" stop-color="#dcbc64"/>
<stop offset="0.5" stop-color="#e8cc78"/>
<stop offset="1" stop-color="#e0c070"/>
</linearGradient>
<filter id="bl4" x="-50%" y="-50%" width="200%" height="200%"><feGaussianBlur stdDeviation="2.5"/></filter>
<filter id="sb4" x="-20%" y="-20%" width="140%" height="140%"><feGaussianBlur stdDeviation="1.1"/></filter>
<filter id="nz4" x="0" y="0" width="100%" height="100%"><feTurbulence type="fractalNoise" baseFrequency="0.32 1.3" numOctaves="2" seed="6"/><feColorMatrix type="matrix" values="0 0 0 0 1  0 0 0 0 1  0 0 0 0 1  1.8 0 0 0 -0.95"/></filter>
<filter id="nd4" x="0" y="0" width="100%" height="100%"><feTurbulence type="fractalNoise" baseFrequency="0.26 1.1" numOctaves="2" seed="15"/><feColorMatrix type="matrix" values="0 0 0 0 0  0 0 0 0 0  0 0 0 0 0  1.9 0 0 0 -1.0"/></filter>
<clipPath id="gc4"><path d="M-2,127.5 C30,126.5 125,126.5 157,127.5 L157,157 L-2,157 Z"/></clipPath>
</defs>
<g transform="translate(80,818)" clip-path="url(#lc4)">
<rect x="0" y="0" width="155" height="155" fill="#0d0a06"/>
<path d="M-2,127.5 C30,126.5 125,126.5 157,127.5 L157,157 L-2,157 Z" fill="url(#gr4)"/>
<g clip-path="url(#gc4)"><g transform="rotate(-24 78 130)"><rect x="-40" y="60" width="240" height="140" filter="url(#nd4)"/><rect x="-40" y="60" width="240" height="140" filter="url(#nz4)"/></g></g>
<ellipse cx="77" cy="64.8" rx="58" ry="54" fill="#1a140a"/>
<ellipse cx="76.8" cy="64.8" rx="55" ry="51.6" fill="url(#rg4)"/>
<ellipse cx="76.4" cy="65.2" rx="47.8" ry="44.6" fill="#130f07"/>
<circle cx="104" cy="70" r="11" fill="#fff4c8" opacity="0.95" filter="url(#bl4)"/>
<circle cx="50.8" cy="40.4" r="10" fill="#6a5e44"/>
<circle cx="50.8" cy="40.4" r="6.6000000000000005" fill="none" stroke="#a89870" stroke-width="1.5" opacity="0.55"/>
<circle cx="50.8" cy="40.4" r="10" fill="none" stroke="#a89870" stroke-width="0.8" opacity="0.45"/>
<circle cx="45.43" cy="37.30" r="1.70" fill="#d0c098" opacity="0.85"/>
<circle cx="56.17" cy="37.30" r="1.70" fill="#d0c098" opacity="0.85"/>
<circle cx="50.26" cy="46.58" r="1.70" fill="#d0c098" opacity="0.85"/>
<circle cx="50.8" cy="38.9" r="3.0" fill="#d0c098"/>
<circle cx="74" cy="32.4" r="10" fill="#6a5e44"/>
<circle cx="74" cy="32.4" r="6.6000000000000005" fill="none" stroke="#a89870" stroke-width="1.5" opacity="0.55"/>
<circle cx="74" cy="32.4" r="10" fill="none" stroke="#a89870" stroke-width="0.8" opacity="0.45"/>
<circle cx="68.63" cy="29.30" r="1.70" fill="#d0c098" opacity="0.85"/>
<circle cx="79.37" cy="29.30" r="1.70" fill="#d0c098" opacity="0.85"/>
<circle cx="73.46" cy="38.58" r="1.70" fill="#d0c098" opacity="0.85"/>
<circle cx="74" cy="30.9" r="3.0" fill="#d0c098"/>
<circle cx="98" cy="38.8" r="10" fill="#6a5e44"/>
<circle cx="98" cy="38.8" r="6.6000000000000005" fill="none" stroke="#a89870" stroke-width="1.5" opacity="0.55"/>
<circle cx="98" cy="38.8" r="10" fill="none" stroke="#a89870" stroke-width="0.8" opacity="0.45"/>
<circle cx="92.63" cy="35.70" r="1.70" fill="#d0c098" opacity="0.85"/>
<circle cx="103.37" cy="35.70" r="1.70" fill="#d0c098" opacity="0.85"/>
<circle cx="97.46" cy="44.98" r="1.70" fill="#d0c098" opacity="0.85"/>
<circle cx="98" cy="37.3" r="3.0" fill="#d0c098"/>
<rect x="50.8" y="89.2" width="7.2" height="12" fill="#d8b860"/>
<rect x="64.4" y="89.2" width="7.2" height="12" fill="#d8b860"/>
<rect x="78.8" y="89.2" width="7.2" height="12" fill="#d8b860"/>
<rect x="93.2" y="89.2" width="7.2" height="12" fill="#d8b860"/>
<g transform="translate(75.6,69) scale(1.0)">
<path d="M0,-9.2 C-3,-12.5 -8,-13.5 -12,-12.2 C-16,-10.5 -16.5,-5.5 -14,-1.5 C-10.5,4 -4.5,9.5 -1.1,13.2 C3,9 9.5,3 13,-1 C16,-4.5 16,-9.5 12.5,-11.5 C8.5,-13.5 3,-12.5 0,-9.2 Z" fill="none" stroke="#f0d070" stroke-width="3.6" stroke-linejoin="round"/>
<path d="M-13,6.5 L20.5,-12" stroke="#f0d070" stroke-width="2.8" stroke-linecap="round"/>
<path d="M-3.5,-14.5 L0,-11.5 L3.5,-14.5" fill="none" stroke="#f0d070" stroke-width="1" opacity="0.6"/>
<path d="M-11,9 L-17,10.5 M-13,4 L-17,10.5" fill="none" stroke="#f0d070" stroke-width="1.8"/>
</g>
<path d="M37.2,72.4 L47.550000000000004,61.47500000000001 L47.550000000000004,67.80000000000001 L55.025000000000006,67.80000000000001 L55.025000000000006,77.0 L47.550000000000004,77.0 L47.550000000000004,83.325 Z" fill="#f0d070"/>
</g>
<line x1="86" y1="819.4" x2="234.6" y2="819.4" stroke="#050403" stroke-width="4.4" stroke-dasharray="11.700000000000001 2.7" stroke-dashoffset="0.9" opacity="0.92"/>
<line x1="86" y1="819.4" x2="234.6" y2="819.4" stroke="#efcd58" stroke-width="2.6" stroke-dasharray="9.9 4.5" stroke-dashoffset="0"/>
<line x1="86" y1="819.4" x2="234.6" y2="819.4" stroke="#f8e6a0" stroke-width="1.0" stroke-dasharray="8.9 5.5" stroke-dashoffset="-0.5"/>
<line x1="233.4" y1="827.2" x2="233.4" y2="970.0" stroke="#050403" stroke-width="4.4" stroke-dasharray="11.600000000000001 2.75" stroke-dashoffset="0.9" opacity="0.92"/>
<line x1="233.4" y1="827.2" x2="233.4" y2="970.0" stroke="#efcd58" stroke-width="2.6" stroke-dasharray="9.8 4.55" stroke-dashoffset="0"/>
<line x1="233.4" y1="827.2" x2="233.4" y2="970.0" stroke="#f8e6a0" stroke-width="1.0" stroke-dasharray="8.8 5.55" stroke-dashoffset="-0.5"/>
<path d="M229.4,819.4 L233.4,819.4 L233.4,822.6" stroke="#050403" stroke-width="4.4" fill="none" opacity="0.92"/>
<path d="M229.4,819.4 L233.4,819.4 L233.4,822.0" stroke="#efcd58" stroke-width="2.6" fill="none"/>
<line x1="234.4" y1="971.2" x2="80" y2="971.2" stroke="#050403" stroke-width="4.4" stroke-dasharray="11.4 3.0" stroke-dashoffset="0.9" opacity="0.92"/>
<line x1="234.4" y1="971.2" x2="80" y2="971.2" stroke="#efcd58" stroke-width="2.6" stroke-dasharray="9.6 4.8" stroke-dashoffset="0"/>
<line x1="234.4" y1="971.2" x2="80" y2="971.2" stroke="#f8e6a0" stroke-width="1.0" stroke-dasharray="8.6 5.8" stroke-dashoffset="-0.5"/>
<line x1="80.8" y1="817.8" x2="80.8" y2="969.7" stroke="#050403" stroke-width="4.4" stroke-dasharray="11.4 2.9000000000000004" stroke-dashoffset="0.9" opacity="0.92"/>
<line x1="80.8" y1="817.8" x2="80.8" y2="969.7" stroke="#efcd58" stroke-width="2.6" stroke-dasharray="9.6 4.7" stroke-dashoffset="0"/>
<line x1="80.8" y1="817.8" x2="80.8" y2="969.7" stroke="#f8e6a0" stroke-width="1.0" stroke-dasharray="8.6 5.7" stroke-dashoffset="-0.5"/>
<rect x="780.4" y="134.1" width="139.5" height="157.6" fill="#1c1c1e"/>
<rect x="782" y="135.5" width="136.5" height="155" fill="#fcfcfc"/>
<rect x="876" y="151.7" width="42.5" height="3.6" fill="#2448a4"/>
<path d="M811,142.1 L843,142.1 L850.5,146.9 L877.5,146.9 L877.5,160.1 L850.5,160.1 L843,164.9 L811,164.9 L813,153.5 Z" fill="#e2e2e2" stroke="#d2d2d2" stroke-width="0.8"/>
<rect x="820" y="146.1" width="23" height="4" fill="#c8c8c8"/>
<rect x="820" y="150.5" width="23" height="5" fill="#f2f2f2"/>
<rect x="820" y="156.5" width="23" height="3.2" fill="#c0c0c0"/>
<rect x="815" y="144.5" width="4" height="18" fill="#f2f2f2"/>
<rect x="844" y="151.3" width="15" height="4.4" fill="#d0d0d0"/>
<rect x="862" y="148.5" width="14" height="10" fill="#d8d8d8"/>
<rect x="866" y="151.7" width="10" height="3.6" fill="#2448a4" opacity="0.35"/>
<rect x="860" y="152.0" width="4" height="3" fill="#a8a8a8"/>
<rect x="876" y="180.5" width="42.5" height="3.6" fill="#22a38c"/>
<path d="M811,170.9 L843,170.9 L850.5,175.70000000000002 L877.5,175.70000000000002 L877.5,188.9 L850.5,188.9 L843,193.70000000000002 L811,193.70000000000002 L813,182.3 Z" fill="#e2e2e2" stroke="#d2d2d2" stroke-width="0.8"/>
<rect x="820" y="174.9" width="23" height="4" fill="#c8c8c8"/>
<rect x="820" y="179.3" width="23" height="5" fill="#f2f2f2"/>
<rect x="820" y="185.3" width="23" height="3.2" fill="#c0c0c0"/>
<rect x="815" y="173.3" width="4" height="18" fill="#f2f2f2"/>
<rect x="844" y="180.10000000000002" width="15" height="4.4" fill="#d0d0d0"/>
<rect x="862" y="177.3" width="14" height="10" fill="#d8d8d8"/>
<rect x="866" y="180.5" width="10" height="3.6" fill="#22a38c" opacity="0.35"/>
<rect x="860" y="180.8" width="4" height="3" fill="#a8a8a8"/>
<rect x="876" y="209.29999999999998" width="42.5" height="3.6" fill="#c4263a"/>
<path d="M811,199.7 L843,199.7 L850.5,204.5 L877.5,204.5 L877.5,217.7 L850.5,217.7 L843,222.5 L811,222.5 L813,211.1 Z" fill="#e2e2e2" stroke="#d2d2d2" stroke-width="0.8"/>
<rect x="820" y="203.7" width="23" height="4" fill="#c8c8c8"/>
<rect x="820" y="208.1" width="23" height="5" fill="#f2f2f2"/>
<rect x="820" y="214.1" width="23" height="3.2" fill="#c0c0c0"/>
<rect x="815" y="202.1" width="4" height="18" fill="#f2f2f2"/>
<rect x="844" y="208.9" width="15" height="4.4" fill="#d0d0d0"/>
<rect x="862" y="206.1" width="14" height="10" fill="#d8d8d8"/>
<rect x="866" y="209.29999999999998" width="10" height="3.6" fill="#c4263a" opacity="0.35"/>
<rect x="860" y="209.6" width="4" height="3" fill="#a8a8a8"/>
<rect x="906" y="242.5" width="12.5" height="24" fill="#262626"/>
<rect x="908" y="243.5" width="10.5" height="8" fill="#343434" opacity="0.6"/>
<path d="M896,238.5 L908,240.5 L908,268.0 L896,268.5 Z" fill="#2a2a2a"/>
<rect x="899.5" y="239.5" width="1.2" height="29" fill="#1a1a1a"/>
<rect x="903" y="239.5" width="1.2" height="29" fill="#1a1a1a"/>
<rect x="906.5" y="239.5" width="1.2" height="29" fill="#1a1a1a"/>
<path d="M845.6,225.7 L877.6,225.7 L897.6,238.4 L897.6,268.0 L876,284.0 L845.6,284.0 Z" fill="#242424"/>
<path d="M848,227.5 L877,227.5 L888.8,232.8 L848,232.8 Z" fill="#2e2e2e"/>
<rect x="848" y="232.8" width="40.8" height="33.6" fill="#3a3a3a"/>
<path d="M848,266.5 L888.8,266.5 L888.8,273.5 L878.5,282.0 L848,282.0 Z" fill="#1f1f1f"/>
<path d="M888.8,232.8 L897.6,238.4 L897.6,268.0 L888.8,273.5 Z" fill="#262626"/>
<rect x="845.6" y="225.7" width="2.6" height="58.3" fill="#1a1a1a"/>
<rect x="825" y="233.5" width="21" height="3.8" fill="#a4a4a4"/>
<rect x="814.4" y="270.7" width="31.5" height="3.8" fill="#a4a4a4"/>
<path d="M845,245.5 L817,245.5 L816,246.5 L816,259.5 L845,259.5" stroke="#d4d4d4" stroke-width="1.2" fill="none"/>
<rect x="780.4" y="304.6" width="139.5" height="156.6" fill="#1c1c1e"/>
<rect x="782" y="306" width="136.5" height="154" fill="#fcfcfc"/>
<rect x="876" y="322.2" width="42.5" height="3.6" fill="#2448a4"/>
<path d="M811,312.6 L843,312.6 L850.5,317.4 L877.5,317.4 L877.5,330.6 L850.5,330.6 L843,335.4 L811,335.4 L813,324.0 Z" fill="#e2e2e2" stroke="#d2d2d2" stroke-width="0.8"/>
<rect x="820" y="316.6" width="23" height="4" fill="#c8c8c8"/>
<rect x="820" y="321.0" width="23" height="5" fill="#f2f2f2"/>
<rect x="820" y="327.0" width="23" height="3.2" fill="#c0c0c0"/>
<rect x="815" y="315.0" width="4" height="18" fill="#f2f2f2"/>
<rect x="844" y="321.8" width="15" height="4.4" fill="#d0d0d0"/>
<rect x="862" y="319.0" width="14" height="10" fill="#d8d8d8"/>
<rect x="866" y="322.2" width="10" height="3.6" fill="#2448a4" opacity="0.35"/>
<rect x="860" y="322.5" width="4" height="3" fill="#a8a8a8"/>
<rect x="876" y="351.0" width="42.5" height="3.6" fill="#22a38c"/>
<path d="M811,341.40000000000003 L843,341.40000000000003 L850.5,346.2 L877.5,346.2 L877.5,359.40000000000003 L850.5,359.40000000000003 L843,364.2 L811,364.2 L813,352.8 Z" fill="#e2e2e2" stroke="#d2d2d2" stroke-width="0.8"/>
<rect x="820" y="345.40000000000003" width="23" height="4" fill="#c8c8c8"/>
<rect x="820" y="349.8" width="23" height="5" fill="#f2f2f2"/>
<rect x="820" y="355.8" width="23" height="3.2" fill="#c0c0c0"/>
<rect x="815" y="343.8" width="4" height="18" fill="#f2f2f2"/>
<rect x="844" y="350.6" width="15" height="4.4" fill="#d0d0d0"/>
<rect x="862" y="347.8" width="14" height="10" fill="#d8d8d8"/>
<rect x="866" y="351.0" width="10" height="3.6" fill="#22a38c" opacity="0.35"/>
<rect x="860" y="351.3" width="4" height="3" fill="#a8a8a8"/>
<rect x="876" y="379.8" width="42.5" height="3.6" fill="#c4263a"/>
<path d="M811,370.20000000000005 L843,370.20000000000005 L850.5,375.0 L877.5,375.0 L877.5,388.20000000000005 L850.5,388.20000000000005 L843,393.0 L811,393.0 L813,381.6 Z" fill="#e2e2e2" stroke="#d2d2d2" stroke-width="0.8"/>
<rect x="820" y="374.20000000000005" width="23" height="4" fill="#c8c8c8"/>
<rect x="820" y="378.6" width="23" height="5" fill="#f2f2f2"/>
<rect x="820" y="384.6" width="23" height="3.2" fill="#c0c0c0"/>
<rect x="815" y="372.6" width="4" height="18" fill="#f2f2f2"/>
<rect x="844" y="379.40000000000003" width="15" height="4.4" fill="#d0d0d0"/>
<rect x="862" y="376.6" width="14" height="10" fill="#d8d8d8"/>
<rect x="866" y="379.8" width="10" height="3.6" fill="#c4263a" opacity="0.35"/>
<rect x="860" y="380.1" width="4" height="3" fill="#a8a8a8"/>
<rect x="906" y="413" width="12.5" height="24" fill="#262626"/>
<rect x="908" y="414" width="10.5" height="8" fill="#343434" opacity="0.6"/>
<path d="M896,409 L908,411 L908,438.5 L896,439 Z" fill="#2a2a2a"/>
<rect x="899.5" y="410" width="1.2" height="29" fill="#1a1a1a"/>
<rect x="903" y="410" width="1.2" height="29" fill="#1a1a1a"/>
<rect x="906.5" y="410" width="1.2" height="29" fill="#1a1a1a"/>
<path d="M845.6,396.2 L877.6,396.2 L897.6,408.9 L897.6,438.5 L876,454.5 L845.6,454.5 Z" fill="#242424"/>
<path d="M848,398 L877,398 L888.8,403.3 L848,403.3 Z" fill="#2e2e2e"/>
<rect x="848" y="403.3" width="40.8" height="33.6" fill="#3a3a3a"/>
<path d="M848,437 L888.8,437 L888.8,444 L878.5,452.5 L848,452.5 Z" fill="#1f1f1f"/>
<path d="M888.8,403.3 L897.6,408.9 L897.6,438.5 L888.8,444 Z" fill="#262626"/>
<rect x="845.6" y="396.2" width="2.6" height="58.3" fill="#1a1a1a"/>
<rect x="825" y="404" width="21" height="3.8" fill="#a4a4a4"/>
<rect x="814.4" y="441.2" width="31.5" height="3.8" fill="#a4a4a4"/>
<path d="M845,416 L817,416 L816,417 L816,430 L845,430" stroke="#d4d4d4" stroke-width="1.2" fill="none"/>
<rect x="780.4" y="488.6" width="139.5" height="151.6" fill="#1c1c1e"/>
<rect x="782" y="490" width="136.5" height="149" fill="#fcfcfc"/>
<rect x="876" y="506.2" width="42.5" height="3.6" fill="#2448a4"/>
<path d="M811,496.6 L843,496.6 L850.5,501.4 L877.5,501.4 L877.5,514.6 L850.5,514.6 L843,519.4 L811,519.4 L813,508.0 Z" fill="#e2e2e2" stroke="#d2d2d2" stroke-width="0.8"/>
<rect x="820" y="500.6" width="23" height="4" fill="#c8c8c8"/>
<rect x="820" y="505.0" width="23" height="5" fill="#f2f2f2"/>
<rect x="820" y="511.0" width="23" height="3.2" fill="#c0c0c0"/>
<rect x="815" y="499.0" width="4" height="18" fill="#f2f2f2"/>
<rect x="844" y="505.8" width="15" height="4.4" fill="#d0d0d0"/>
<rect x="862" y="503.0" width="14" height="10" fill="#d8d8d8"/>
<rect x="866" y="506.2" width="10" height="3.6" fill="#2448a4" opacity="0.35"/>
<rect x="860" y="506.5" width="4" height="3" fill="#a8a8a8"/>
<rect x="876" y="535.0" width="42.5" height="3.6" fill="#22a38c"/>
<path d="M811,525.4 L843,525.4 L850.5,530.1999999999999 L877.5,530.1999999999999 L877.5,543.4 L850.5,543.4 L843,548.1999999999999 L811,548.1999999999999 L813,536.8 Z" fill="#e2e2e2" stroke="#d2d2d2" stroke-width="0.8"/>
<rect x="820" y="529.4" width="23" height="4" fill="#c8c8c8"/>
<rect x="820" y="533.8" width="23" height="5" fill="#f2f2f2"/>
<rect x="820" y="539.8" width="23" height="3.2" fill="#c0c0c0"/>
<rect x="815" y="527.8" width="4" height="18" fill="#f2f2f2"/>
<rect x="844" y="534.5999999999999" width="15" height="4.4" fill="#d0d0d0"/>
<rect x="862" y="531.8" width="14" height="10" fill="#d8d8d8"/>
<rect x="866" y="535.0" width="10" height="3.6" fill="#22a38c" opacity="0.35"/>
<rect x="860" y="535.3" width="4" height="3" fill="#a8a8a8"/>
<rect x="876" y="563.8000000000001" width="42.5" height="3.6" fill="#c4263a"/>
<path d="M811,554.2 L843,554.2 L850.5,559.0 L877.5,559.0 L877.5,572.2 L850.5,572.2 L843,577.0 L811,577.0 L813,565.6 Z" fill="#e2e2e2" stroke="#d2d2d2" stroke-width="0.8"/>
<rect x="820" y="558.2" width="23" height="4" fill="#c8c8c8"/>
<rect x="820" y="562.6" width="23" height="5" fill="#f2f2f2"/>
<rect x="820" y="568.6" width="23" height="3.2" fill="#c0c0c0"/>
<rect x="815" y="556.6" width="4" height="18" fill="#f2f2f2"/>
<rect x="844" y="563.4" width="15" height="4.4" fill="#d0d0d0"/>
<rect x="862" y="560.6" width="14" height="10" fill="#d8d8d8"/>
<rect x="866" y="563.8000000000001" width="10" height="3.6" fill="#c4263a" opacity="0.35"/>
<rect x="860" y="564.1" width="4" height="3" fill="#a8a8a8"/>
<rect x="906" y="597" width="12.5" height="24" fill="#262626"/>
<rect x="908" y="598" width="10.5" height="8" fill="#343434" opacity="0.6"/>
<path d="M896,593 L908,595 L908,622.5 L896,623 Z" fill="#2a2a2a"/>
<rect x="899.5" y="594" width="1.2" height="29" fill="#1a1a1a"/>
<rect x="903" y="594" width="1.2" height="29" fill="#1a1a1a"/>
<rect x="906.5" y="594" width="1.2" height="29" fill="#1a1a1a"/>
<path d="M845.6,580.2 L877.6,580.2 L897.6,592.9 L897.6,622.5 L876,638.5 L845.6,638.5 Z" fill="#242424"/>
<path d="M848,582 L877,582 L888.8,587.3 L848,587.3 Z" fill="#2e2e2e"/>
<rect x="848" y="587.3" width="40.8" height="33.6" fill="#3a3a3a"/>
<path d="M848,621 L888.8,621 L888.8,628 L878.5,636.5 L848,636.5 Z" fill="#1f1f1f"/>
<path d="M888.8,587.3 L897.6,592.9 L897.6,622.5 L888.8,628 Z" fill="#262626"/>
<rect x="845.6" y="580.2" width="2.6" height="58.3" fill="#1a1a1a"/>
<rect x="825" y="588" width="21" height="3.8" fill="#a4a4a4"/>
<rect x="814.4" y="625.2" width="31.5" height="3.8" fill="#a4a4a4"/>
<path d="M845,600 L817,600 L816,601 L816,614 L845,614" stroke="#d4d4d4" stroke-width="1.2" fill="none"/>
<rect x="780.4" y="645.6" width="139.5" height="157.6" fill="#1c1c1e"/>
<rect x="782" y="647" width="136.5" height="155" fill="#fcfcfc"/>
<rect x="876" y="663.2" width="42.5" height="3.6" fill="#2448a4"/>
<path d="M811,653.6 L843,653.6 L850.5,658.4 L877.5,658.4 L877.5,671.6 L850.5,671.6 L843,676.4 L811,676.4 L813,665.0 Z" fill="#e2e2e2" stroke="#d2d2d2" stroke-width="0.8"/>
<rect x="820" y="657.6" width="23" height="4" fill="#c8c8c8"/>
<rect x="820" y="662.0" width="23" height="5" fill="#f2f2f2"/>
<rect x="820" y="668.0" width="23" height="3.2" fill="#c0c0c0"/>
<rect x="815" y="656.0" width="4" height="18" fill="#f2f2f2"/>
<rect x="844" y="662.8" width="15" height="4.4" fill="#d0d0d0"/>
<rect x="862" y="660.0" width="14" height="10" fill="#d8d8d8"/>
<rect x="866" y="663.2" width="10" height="3.6" fill="#2448a4" opacity="0.35"/>
<rect x="860" y="663.5" width="4" height="3" fill="#a8a8a8"/>
<rect x="876" y="692.0" width="42.5" height="3.6" fill="#22a38c"/>
<path d="M811,682.4 L843,682.4 L850.5,687.1999999999999 L877.5,687.1999999999999 L877.5,700.4 L850.5,700.4 L843,705.1999999999999 L811,705.1999999999999 L813,693.8 Z" fill="#e2e2e2" stroke="#d2d2d2" stroke-width="0.8"/>
<rect x="820" y="686.4" width="23" height="4" fill="#c8c8c8"/>
<rect x="820" y="690.8" width="23" height="5" fill="#f2f2f2"/>
<rect x="820" y="696.8" width="23" height="3.2" fill="#c0c0c0"/>
<rect x="815" y="684.8" width="4" height="18" fill="#f2f2f2"/>
<rect x="844" y="691.5999999999999" width="15" height="4.4" fill="#d0d0d0"/>
<rect x="862" y="688.8" width="14" height="10" fill="#d8d8d8"/>
<rect x="866" y="692.0" width="10" height="3.6" fill="#22a38c" opacity="0.35"/>
<rect x="860" y="692.3" width="4" height="3" fill="#a8a8a8"/>
<rect x="876" y="720.8000000000001" width="42.5" height="3.6" fill="#c4263a"/>
<path d="M811,711.2 L843,711.2 L850.5,716.0 L877.5,716.0 L877.5,729.2 L850.5,729.2 L843,734.0 L811,734.0 L813,722.6 Z" fill="#e2e2e2" stroke="#d2d2d2" stroke-width="0.8"/>
<rect x="820" y="715.2" width="23" height="4" fill="#c8c8c8"/>
<rect x="820" y="719.6" width="23" height="5" fill="#f2f2f2"/>
<rect x="820" y="725.6" width="23" height="3.2" fill="#c0c0c0"/>
<rect x="815" y="713.6" width="4" height="18" fill="#f2f2f2"/>
<rect x="844" y="720.4" width="15" height="4.4" fill="#d0d0d0"/>
<rect x="862" y="717.6" width="14" height="10" fill="#d8d8d8"/>
<rect x="866" y="720.8000000000001" width="10" height="3.6" fill="#c4263a" opacity="0.35"/>
<rect x="860" y="721.1" width="4" height="3" fill="#a8a8a8"/>
<rect x="906" y="754" width="12.5" height="24" fill="#262626"/>
<rect x="908" y="755" width="10.5" height="8" fill="#343434" opacity="0.6"/>
<path d="M896,750 L908,752 L908,779.5 L896,780 Z" fill="#2a2a2a"/>
<rect x="899.5" y="751" width="1.2" height="29" fill="#1a1a1a"/>
<rect x="903" y="751" width="1.2" height="29" fill="#1a1a1a"/>
<rect x="906.5" y="751" width="1.2" height="29" fill="#1a1a1a"/>
<path d="M845.6,737.2 L877.6,737.2 L897.6,749.9 L897.6,779.5 L876,795.5 L845.6,795.5 Z" fill="#242424"/>
<path d="M848,739 L877,739 L888.8,744.3 L848,744.3 Z" fill="#2e2e2e"/>
<rect x="848" y="744.3" width="40.8" height="33.6" fill="#3a3a3a"/>
<path d="M848,778 L888.8,778 L888.8,785 L878.5,793.5 L848,793.5 Z" fill="#1f1f1f"/>
<path d="M888.8,744.3 L897.6,749.9 L897.6,779.5 L888.8,785 Z" fill="#262626"/>
<rect x="845.6" y="737.2" width="2.6" height="58.3" fill="#1a1a1a"/>
<rect x="825" y="745" width="21" height="3.8" fill="#a4a4a4"/>
<rect x="814.4" y="782.2" width="31.5" height="3.8" fill="#a4a4a4"/>
<path d="M845,757 L817,757 L816,758 L816,771 L845,771" stroke="#d4d4d4" stroke-width="1.2" fill="none"/>
<rect x="780.4" y="815.6" width="139.5" height="157.6" fill="#1c1c1e"/>
<rect x="782" y="817" width="136.5" height="155" fill="#fcfcfc"/>
<rect x="876" y="833.2" width="42.5" height="3.6" fill="#2448a4"/>
<path d="M811,823.6 L843,823.6 L850.5,828.4 L877.5,828.4 L877.5,841.6 L850.5,841.6 L843,846.4 L811,846.4 L813,835.0 Z" fill="#e2e2e2" stroke="#d2d2d2" stroke-width="0.8"/>
<rect x="820" y="827.6" width="23" height="4" fill="#c8c8c8"/>
<rect x="820" y="832.0" width="23" height="5" fill="#f2f2f2"/>
<rect x="820" y="838.0" width="23" height="3.2" fill="#c0c0c0"/>
<rect x="815" y="826.0" width="4" height="18" fill="#f2f2f2"/>
<rect x="844" y="832.8" width="15" height="4.4" fill="#d0d0d0"/>
<rect x="862" y="830.0" width="14" height="10" fill="#d8d8d8"/>
<rect x="866" y="833.2" width="10" height="3.6" fill="#2448a4" opacity="0.35"/>
<rect x="860" y="833.5" width="4" height="3" fill="#a8a8a8"/>
<rect x="876" y="862.0" width="42.5" height="3.6" fill="#22a38c"/>
<path d="M811,852.4 L843,852.4 L850.5,857.1999999999999 L877.5,857.1999999999999 L877.5,870.4 L850.5,870.4 L843,875.1999999999999 L811,875.1999999999999 L813,863.8 Z" fill="#e2e2e2" stroke="#d2d2d2" stroke-width="0.8"/>
<rect x="820" y="856.4" width="23" height="4" fill="#c8c8c8"/>
<rect x="820" y="860.8" width="23" height="5" fill="#f2f2f2"/>
<rect x="820" y="866.8" width="23" height="3.2" fill="#c0c0c0"/>
<rect x="815" y="854.8" width="4" height="18" fill="#f2f2f2"/>
<rect x="844" y="861.5999999999999" width="15" height="4.4" fill="#d0d0d0"/>
<rect x="862" y="858.8" width="14" height="10" fill="#d8d8d8"/>
<rect x="866" y="862.0" width="10" height="3.6" fill="#22a38c" opacity="0.35"/>
<rect x="860" y="862.3" width="4" height="3" fill="#a8a8a8"/>
<rect x="876" y="890.8000000000001" width="42.5" height="3.6" fill="#c4263a"/>
<path d="M811,881.2 L843,881.2 L850.5,886.0 L877.5,886.0 L877.5,899.2 L850.5,899.2 L843,904.0 L811,904.0 L813,892.6 Z" fill="#e2e2e2" stroke="#d2d2d2" stroke-width="0.8"/>
<rect x="820" y="885.2" width="23" height="4" fill="#c8c8c8"/>
<rect x="820" y="889.6" width="23" height="5" fill="#f2f2f2"/>
<rect x="820" y="895.6" width="23" height="3.2" fill="#c0c0c0"/>
<rect x="815" y="883.6" width="4" height="18" fill="#f2f2f2"/>
<rect x="844" y="890.4" width="15" height="4.4" fill="#d0d0d0"/>
<rect x="862" y="887.6" width="14" height="10" fill="#d8d8d8"/>
<rect x="866" y="890.8000000000001" width="10" height="3.6" fill="#c4263a" opacity="0.35"/>
<rect x="860" y="891.1" width="4" height="3" fill="#a8a8a8"/>
<rect x="906" y="924" width="12.5" height="24" fill="#262626"/>
<rect x="908" y="925" width="10.5" height="8" fill="#343434" opacity="0.6"/>
<path d="M896,920 L908,922 L908,949.5 L896,950 Z" fill="#2a2a2a"/>
<rect x="899.5" y="921" width="1.2" height="29" fill="#1a1a1a"/>
<rect x="903" y="921" width="1.2" height="29" fill="#1a1a1a"/>
<rect x="906.5" y="921" width="1.2" height="29" fill="#1a1a1a"/>
<path d="M845.6,907.2 L877.6,907.2 L897.6,919.9 L897.6,949.5 L876,965.5 L845.6,965.5 Z" fill="#242424"/>
<path d="M848,909 L877,909 L888.8,914.3 L848,914.3 Z" fill="#2e2e2e"/>
<rect x="848" y="914.3" width="40.8" height="33.6" fill="#3a3a3a"/>
<path d="M848,948 L888.8,948 L888.8,955 L878.5,963.5 L848,963.5 Z" fill="#1f1f1f"/>
<path d="M888.8,914.3 L897.6,919.9 L897.6,949.5 L888.8,955 Z" fill="#262626"/>
<rect x="845.6" y="907.2" width="2.6" height="58.3" fill="#1a1a1a"/>
<rect x="825" y="915" width="21" height="3.8" fill="#a4a4a4"/>
<rect x="814.4" y="952.2" width="31.5" height="3.8" fill="#a4a4a4"/>
<path d="M845,927 L817,927 L816,928 L816,941 L845,941" stroke="#d4d4d4" stroke-width="1.2" fill="none"/>
<path d="M235,227.6 C244.9,227.6 247.1,224.4 257,224.4 L320,227.1 C322.5,227.1 322.5,240.9 320,240.9 L257,244.2 C247.1,244.2 244.9,237 235,237 Z" fill="#141414"/>
<path d="M236,228.6 C244.9,228.1 247.1,225.4 257,225.6 L319,228.1 L319,232.896 L257,232.716 C247.1,232.716 244.9,231.82999999999998 236,231.82999999999998 Z" fill="#3a3a3a" opacity="0.75"/>
<path d="M237,230.1 C244.9,229.6 247.1,229.944 259,229.944 L318,230.55" stroke="#5e5e5e" stroke-width="1.4" fill="none"/>
<path d="M257,235.29 L317,234.69" stroke="#2e2e2e" stroke-width="1.2" fill="none"/>
<circle cx="258" cy="234.3" r="1" fill="#9a9a9a"/>
<rect x="318.9" y="230.9" width="13.800000000000011" height="6.8" rx="3.4" fill="#a8a8a8"/>
<rect x="319.9" y="231.70000000000002" width="10.800000000000011" height="2.2" rx="1.1" fill="#f0f0f0"/>
<rect x="318.9" y="235.5" width="11.800000000000011" height="1.6" fill="#6a6a6a"/>
<path d="M235,261.8 C251.65,261.8 255.35,261.2 272,261.2 L313,268.9 C315.5,268.9 315.5,288.2 313,288.2 L272,289.8 C255.35,289.8 251.65,278.3 235,278.3 Z" fill="#ec4026"/>
<path d="M238,264.8 C251.65,264.8 255.35,264.2 272,264.7 L310,271.9" stroke="#ff7658" stroke-width="2" fill="none" opacity="0.7"/>
<path d="M272,278.36 L305,280.866" stroke="#ff8a70" stroke-width="1.2" fill="none" opacity="0.6"/>
<path d="M237,276.8 C251.65,276.8 255.35,287.8 272,287.8 L312,286.2" stroke="#c81c0c" stroke-width="2.2" fill="none" opacity="0.8"/>
<path d="M312.9,271.1 L326.8,273.3 C328.8,274.3 328.8,276.3 326.8,277.3 L312.9,279.5 Z" fill="#c4c4bc"/>
<path d="M313.9,273.3 L325.8,274.3" stroke="#f4f4ee" stroke-width="1.3"/>
<path d="M315.9,277.3 L317.9,275.3 M319.9,277.3 L321.9,275.3 M323.9,277.3 L325.9,275.3" stroke="#8a8a84" stroke-width="0.8"/>
<rect x="321.9" y="217.8" width="10.2" height="4.4" fill="#f2f2f2"/>
<path d="M321.1,290.7 H333.9 M327.5,284.2 V297.2" stroke="#f2f2f2" stroke-width="3.2"/>
<path d="M343,234.9 L819.4,234.9" stroke="#6a1c20" stroke-width="5.300000000000001" fill="none" opacity="0.45"/><path d="M343,234.9 L819.4,234.9" stroke="#c21e22" stroke-width="2.7" fill="none" stroke-linejoin="miter"/>
<path d="M343,275.8 L343,253.1 L819.4,253.1" stroke="#6a1c20" stroke-width="5.300000000000001" fill="none" opacity="0.45"/><path d="M343,275.8 L343,253.1 L819.4,253.1" stroke="#c21e22" stroke-width="2.7" fill="none" stroke-linejoin="miter"/>
<circle cx="343" cy="234.9" r="6" fill="#f00a0a" stroke="#c40808" stroke-width="0.7"/>
<circle cx="343" cy="275.8" r="6" fill="#f00a0a" stroke="#c40808" stroke-width="0.7"/>
<circle cx="819.4" cy="234.8" r="6" fill="#f00a0a" stroke="#c40808" stroke-width="0.7"/>
<circle cx="819.4" cy="253.2" r="6" fill="#f00a0a" stroke="#c40808" stroke-width="0.7"/>
<path d="M235,397.6 C244.9,397.6 247.1,394.4 257,394.4 L320,397.1 C322.5,397.1 322.5,410.9 320,410.9 L257,414.2 C247.1,414.2 244.9,407 235,407 Z" fill="#141414"/>
<path d="M236,398.6 C244.9,398.1 247.1,395.4 257,395.59999999999997 L319,398.1 L319,402.896 L257,402.716 C247.1,402.716 244.9,401.83000000000004 236,401.83000000000004 Z" fill="#3a3a3a" opacity="0.75"/>
<path d="M237,400.1 C244.9,399.6 247.1,399.94399999999996 259,399.94399999999996 L318,400.55" stroke="#5e5e5e" stroke-width="1.4" fill="none"/>
<path d="M257,405.28999999999996 L317,404.69" stroke="#2e2e2e" stroke-width="1.2" fill="none"/>
<circle cx="258" cy="404.29999999999995" r="1" fill="#9a9a9a"/>
<rect x="318.9" y="400.90000000000003" width="13.800000000000011" height="6.8" rx="3.4" fill="#a8a8a8"/>
<rect x="319.9" y="401.7" width="10.800000000000011" height="2.2" rx="1.1" fill="#f0f0f0"/>
<rect x="318.9" y="405.5" width="11.800000000000011" height="1.6" fill="#6a6a6a"/>
<path d="M235,431.8 C251.65,431.8 255.35,431.2 272,431.2 L313,438.9 C315.5,438.9 315.5,458.2 313,458.2 L272,459.8 C255.35,459.8 251.65,448.3 235,448.3 Z" fill="#ec4026"/>
<path d="M238,434.8 C251.65,434.8 255.35,434.2 272,434.7 L310,441.9" stroke="#ff7658" stroke-width="2" fill="none" opacity="0.7"/>
<path d="M272,448.36 L305,450.866" stroke="#ff8a70" stroke-width="1.2" fill="none" opacity="0.6"/>
<path d="M237,446.8 C251.65,446.8 255.35,457.8 272,457.8 L312,456.2" stroke="#c81c0c" stroke-width="2.2" fill="none" opacity="0.8"/>
<path d="M312.9,441.1 L326.8,443.3 C328.8,444.3 328.8,446.3 326.8,447.3 L312.9,449.5 Z" fill="#c4c4bc"/>
<path d="M313.9,443.3 L325.8,444.3" stroke="#f4f4ee" stroke-width="1.3"/>
<path d="M315.9,447.3 L317.9,445.3 M319.9,447.3 L321.9,445.3 M323.9,447.3 L325.9,445.3" stroke="#8a8a84" stroke-width="0.8"/>
<rect x="321.9" y="387.8" width="10.2" height="4.4" fill="#f2f2f2"/>
<path d="M321.1,460.7 H333.9 M327.5,454.2 V467.2" stroke="#f2f2f2" stroke-width="3.2"/>
<path d="M343,405.3 L819.4,405.3" stroke="#6a1c20" stroke-width="5.300000000000001" fill="none" opacity="0.45"/><path d="M343,405.3 L819.4,405.3" stroke="#c21e22" stroke-width="2.7" fill="none" stroke-linejoin="miter"/>
<path d="M343,444.6 L819.4,444.6" stroke="#6a1c20" stroke-width="5.300000000000001" fill="none" opacity="0.45"/><path d="M343,444.6 L819.4,444.6" stroke="#c21e22" stroke-width="2.7" fill="none" stroke-linejoin="miter"/>
<circle cx="343" cy="404.9" r="6" fill="#f00a0a" stroke="#c40808" stroke-width="0.7"/>
<circle cx="343" cy="445.4" r="6" fill="#f00a0a" stroke="#c40808" stroke-width="0.7"/>
<circle cx="819.4" cy="405.2" r="6" fill="#f00a0a" stroke="#c40808" stroke-width="0.7"/>
<circle cx="819.4" cy="443.9" r="6" fill="#f00a0a" stroke="#c40808" stroke-width="0.7"/>
<path d="M235,526 C249.85,526 253.15,514.6 268,514.6 L313,520 C315.5,520 315.5,539.2 313,539.2 L268,542.2 C253.15,542.2 249.85,539.8 235,539.8 Z" fill="#ec4026"/>
<path d="M238,529 C249.85,529 253.15,517.6 268,518.1 L310,523" stroke="#ff7658" stroke-width="2" fill="none" opacity="0.7"/>
<path d="M268,531.1600000000001 L305,531.904" stroke="#ff8a70" stroke-width="1.2" fill="none" opacity="0.6"/>
<path d="M237,538.3 C249.85,538.3 253.15,540.2 268,540.2 L312,537.2" stroke="#c81c0c" stroke-width="2.2" fill="none" opacity="0.8"/>
<path d="M312.4,528.8 L326.6,531 C328.6,532 328.6,534 326.6,535 L312.4,537.2 Z" fill="#c4c4bc"/>
<path d="M313.4,531 L325.6,532" stroke="#f4f4ee" stroke-width="1.3"/>
<path d="M315.4,535 L317.4,533 M319.4,535 L321.4,533 M323.4,535 L325.4,533" stroke="#8a8a84" stroke-width="0.8"/>
<path d="M235,583 C245.35,583 247.65,578.8 258,578.8 L321,580.6 C323.5,580.6 323.5,596.2 321,596.2 L258,599.8 C247.65,599.8 245.35,591.4 235,591.4 Z" fill="#141414"/>
<path d="M236,584 C245.35,583.5 247.65,579.8 258,580.0 L320,581.6 L320,587.152 L258,587.62 C247.65,587.62 245.35,586.78 236,586.78 Z" fill="#3a3a3a" opacity="0.75"/>
<path d="M237,585.5 C245.35,585 247.65,584.68 260,584.68 L319,584.5" stroke="#5e5e5e" stroke-width="1.4" fill="none"/>
<path d="M258,590.3499999999999 L318,589.1800000000001" stroke="#2e2e2e" stroke-width="1.2" fill="none"/>
<circle cx="259" cy="589.3" r="1" fill="#9a9a9a"/>
<rect x="318.4" y="585.6" width="14.400000000000034" height="6.8" rx="3.4" fill="#a8a8a8"/>
<rect x="319.4" y="586.4" width="11.400000000000034" height="2.2" rx="1.1" fill="#f0f0f0"/>
<rect x="318.4" y="590.2" width="12.400000000000034" height="1.6" fill="#6a6a6a"/>
<path d="M321.0,516 H333.79999999999995 M327.4,509.5 V522.5" stroke="#f2f2f2" stroke-width="3.2"/>
<rect x="322.0" y="600.9" width="10.2" height="4.4" fill="#f2f2f2"/>
<path d="M343,535.9 L819,535.9" stroke="#6a1c20" stroke-width="6.5" fill="none" opacity="0.45"/><path d="M343,535.9 L819,535.9" stroke="#e40c0e" stroke-width="3.9" fill="none" stroke-linejoin="miter"/>
<path d="M343,591.7 L819.4,591.7" stroke="#6a1c20" stroke-width="5.300000000000001" fill="none" opacity="0.45"/><path d="M343,591.7 L819.4,591.7" stroke="#c21e22" stroke-width="2.7" fill="none" stroke-linejoin="miter"/>
<circle cx="343" cy="535.6" r="6" fill="#f00a0a" stroke="#c40808" stroke-width="0.7"/>
<circle cx="343" cy="591.2" r="6" fill="#f00a0a" stroke="#c40808" stroke-width="0.7"/>
<circle cx="818.5" cy="536.2" r="6" fill="#f00a0a" stroke="#c40808" stroke-width="0.7"/>
<circle cx="819.4" cy="591.5" r="6" fill="#f00a0a" stroke="#c40808" stroke-width="0.7"/>
<path d="M235,709 C249.85,709 253.15,697.6 268,697.6 L313,703 C315.5,703 315.5,722.2 313,722.2 L268,725.8 C253.15,725.8 249.85,723.4 235,723.4 Z" fill="#ec4026"/>
<path d="M238,712 C249.85,712 253.15,700.6 268,701.1 L310,706" stroke="#ff7658" stroke-width="2" fill="none" opacity="0.7"/>
<path d="M268,714.52 L305,714.904" stroke="#ff8a70" stroke-width="1.2" fill="none" opacity="0.6"/>
<path d="M237,721.9 C249.85,721.9 253.15,723.8 268,723.8 L312,720.2" stroke="#c81c0c" stroke-width="2.2" fill="none" opacity="0.8"/>
<path d="M312.4,712.8 L327.2,715 C329.2,716 329.2,718 327.2,719 L312.4,721.2 Z" fill="#c4c4bc"/>
<path d="M313.4,715 L326.2,716" stroke="#f4f4ee" stroke-width="1.3"/>
<path d="M315.4,719 L317.4,717 M319.4,719 L321.4,717 M323.4,719 L325.4,717" stroke="#8a8a84" stroke-width="0.8"/>
<path d="M235,740.2 C245.35,740.2 247.65,736 258,736 L321,737.8 C323.5,737.8 323.5,753.4 321,753.4 L258,756.4 C247.65,756.4 245.35,749.8 235,749.8 Z" fill="#141414"/>
<path d="M236,741.2 C245.35,740.7 247.65,737 258,737.2 L320,738.8 L320,744.352 L258,744.568 C247.65,744.568 245.35,744.52 236,744.52 Z" fill="#3a3a3a" opacity="0.75"/>
<path d="M237,742.7 C245.35,742.2 247.65,741.712 260,741.712 L319,741.6999999999999" stroke="#5e5e5e" stroke-width="1.4" fill="none"/>
<path d="M258,747.22 L318,746.38" stroke="#2e2e2e" stroke-width="1.2" fill="none"/>
<circle cx="259" cy="746.2" r="1" fill="#9a9a9a"/>
<rect x="318.4" y="742.8000000000001" width="14.400000000000034" height="6.8" rx="3.4" fill="#a8a8a8"/>
<rect x="319.4" y="743.6" width="11.400000000000034" height="2.2" rx="1.1" fill="#f0f0f0"/>
<rect x="318.4" y="747.4000000000001" width="12.400000000000034" height="1.6" fill="#6a6a6a"/>
<path d="M321.0,699.4 H333.79999999999995 M327.4,692.9 V705.9" stroke="#f2f2f2" stroke-width="3.2"/>
<rect x="322.0" y="758.0999999999999" width="10.2" height="4.4" fill="#f2f2f2"/>
<path d="M343,719.3 L819.4,719.3" stroke="#6a1c20" stroke-width="5.300000000000001" fill="none" opacity="0.45"/><path d="M343,719.3 L819.4,719.3" stroke="#c21e22" stroke-width="2.7" fill="none" stroke-linejoin="miter"/>
<path d="M343,748.7 L819.4,748.7" stroke="#6a1c20" stroke-width="5.300000000000001" fill="none" opacity="0.45"/><path d="M343,748.7 L819.4,748.7" stroke="#c21e22" stroke-width="2.7" fill="none" stroke-linejoin="miter"/>
<circle cx="343" cy="719.2" r="6" fill="#f00a0a" stroke="#c40808" stroke-width="0.7"/>
<circle cx="343" cy="748.6" r="6" fill="#f00a0a" stroke="#c40808" stroke-width="0.7"/>
<circle cx="819.4" cy="719.2" r="6" fill="#f00a0a" stroke="#c40808" stroke-width="0.7"/>
<circle cx="819.4" cy="748.9" r="6" fill="#f00a0a" stroke="#c40808" stroke-width="0.7"/>
<path d="M235,890.4 C251.65,890.4 255.35,889.2 272,889.2 L313,898.2 C315.5,898.2 315.5,916.8 313,916.8 L272,917.4 C255.35,917.4 251.65,904.8 235,904.8 Z" fill="#ec4026"/>
<path d="M238,893.4 C251.65,893.4 255.35,892.2 272,892.7 L310,901.2" stroke="#ff7658" stroke-width="2" fill="none" opacity="0.7"/>
<path d="M272,906.12 L305,909.732" stroke="#ff8a70" stroke-width="1.2" fill="none" opacity="0.6"/>
<path d="M237,903.3 C251.65,903.3 255.35,915.4 272,915.4 L312,914.8" stroke="#c81c0c" stroke-width="2.2" fill="none" opacity="0.8"/>
<path d="M312.4,899.4 L327.2,901.6 C329.2,902.6 329.2,904.6 327.2,905.6 L312.4,907.8000000000001 Z" fill="#c4c4bc"/>
<path d="M313.4,901.6 L326.2,902.6" stroke="#f4f4ee" stroke-width="1.3"/>
<path d="M315.4,905.6 L317.4,903.6 M319.4,905.6 L321.4,903.6 M323.4,905.6 L325.4,903.6" stroke="#8a8a84" stroke-width="0.8"/>
<path d="M235,938.4 C245.35,938.4 247.65,933.6 258,933.6 L321,936 C323.5,936 323.5,951.6 321,951.6 L258,954 C247.65,954 245.35,946.8 235,946.8 Z" fill="#141414"/>
<path d="M236,939.4 C245.35,938.9 247.65,934.6 258,934.8000000000001 L320,937 L320,942.552 L258,942.168 C247.65,942.168 245.35,942.18 236,942.18 Z" fill="#3a3a3a" opacity="0.75"/>
<path d="M237,940.9 C245.35,940.4 247.65,939.312 260,939.312 L319,939.9" stroke="#5e5e5e" stroke-width="1.4" fill="none"/>
<path d="M258,944.82 L318,944.58" stroke="#2e2e2e" stroke-width="1.2" fill="none"/>
<circle cx="259" cy="943.8" r="1" fill="#9a9a9a"/>
<rect x="318.4" y="941.0" width="14.400000000000034" height="6.8" rx="3.4" fill="#a8a8a8"/>
<rect x="319.4" y="941.8" width="11.400000000000034" height="2.2" rx="1.1" fill="#f0f0f0"/>
<rect x="318.4" y="945.6" width="12.400000000000034" height="1.6" fill="#6a6a6a"/>
<path d="M321.0,886.2 H333.79999999999995 M327.4,879.7 V892.7" stroke="#f2f2f2" stroke-width="3.2"/>
<rect x="322.0" y="954.8" width="10.2" height="4.4" fill="#f2f2f2"/>
<path d="M342.8,904.2 L342.8,834 L819.4,834" stroke="#6a1c20" stroke-width="5.300000000000001" fill="none" opacity="0.45"/><path d="M342.8,904.2 L342.8,834 L819.4,834" stroke="#c21e22" stroke-width="2.7" fill="none" stroke-linejoin="miter"/>
<path d="M342.8,944.5 L755.3,944.5 L755.3,916.7 L819.4,916.7" stroke="#6a1c20" stroke-width="5.300000000000001" fill="none" opacity="0.45"/><path d="M342.8,944.5 L755.3,944.5 L755.3,916.7 L819.4,916.7" stroke="#c21e22" stroke-width="2.7" fill="none" stroke-linejoin="miter"/>
<circle cx="342.8" cy="904.2" r="6" fill="#f00a0a" stroke="#c40808" stroke-width="0.7"/>
<circle cx="342.8" cy="944.5" r="6" fill="#f00a0a" stroke="#c40808" stroke-width="0.7"/>
<circle cx="819.4" cy="833.5" r="6" fill="#f00a0a" stroke="#c40808" stroke-width="0.7"/>
<circle cx="819.4" cy="916.6" r="6" fill="#f00a0a" stroke="#c40808" stroke-width="0.7"/>
</svg>
</body></html>
